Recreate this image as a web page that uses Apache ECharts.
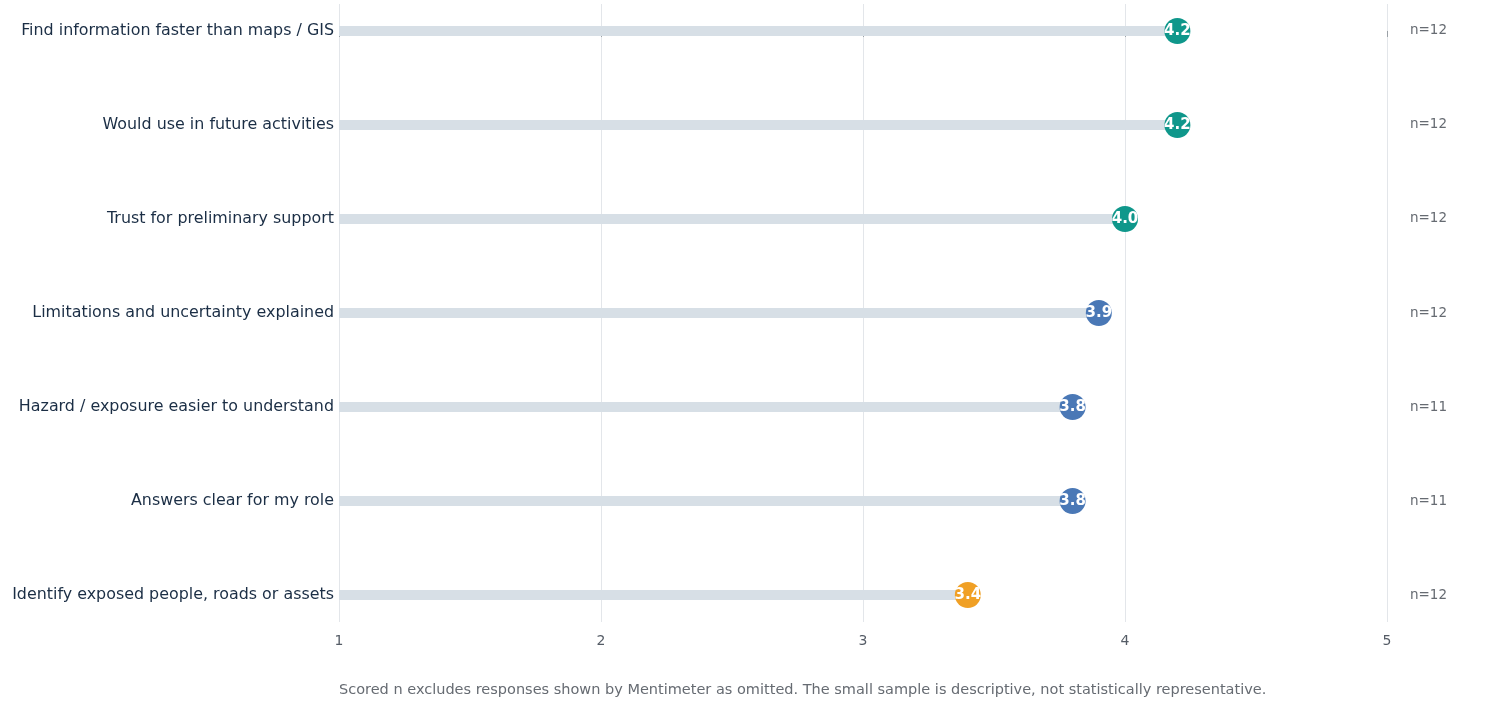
<!DOCTYPE html>
<html><head><meta charset="utf-8">
<script src="https://cdn.jsdelivr.net/npm/echarts@6/dist/echarts.min.js"></script>
<style>html,body{margin:0;padding:0;background:#fff}#c{width:1491px;height:711px}</style>
</head><body><div id="c"></div>
<script>
var categories = [
  'Find information faster than maps / GIS',
  'Would use in future activities',
  'Trust for preliminary support',
  'Limitations and uncertainty explained',
  'Hazard / exposure easier to understand',
  'Answers clear for my role',
  'Identify exposed people, roads or assets'
];
var scores = [4.2, 4.2, 4.0, 3.9, 3.8, 3.8, 3.4];
var nLabels = ['n=12', 'n=12', 'n=12', 'n=12', 'n=11', 'n=11', 'n=12'];
var xTicks = [1, 2, 3, 4, 5];
var footnote = 'Scored n excludes responses shown by Mentimeter as omitted. The small sample is descriptive, not statistically representative.';

function colorFor(v) {
  if (v >= 4) return '#0f978b';
  if (v >= 3.5) return '#4a78b6';
  return '#f0a025';
}
var idx = categories.map(function (_, i) { return i; });
var data = scores.map(function (v, i) { return [v, i]; });
var FONT = 'DejaVu Sans';

var chart = echarts.init(document.getElementById('c'), null, {renderer: 'canvas'});
chart.setOption({
  animation: false,
  textStyle: {fontFamily: FONT},
  grid: {left: 339, right: 104, top: 4, bottom: 89, containLabel: false},
  xAxis: {
    type: 'value', min: 1, max: 5, interval: 1,
    axisLine: {show: false},
    axisTick: {show: true, length: 6, lineStyle: {color: '#9aa0a6'}},
    axisLabel: {color: '#555c66', fontSize: 14, margin: 12, fontFamily: FONT},
    splitLine: {show: true, lineStyle: {color: '#e3e6ea', width: 1}}
  },
  yAxis: {
    type: 'value', inverse: true, min: -0.287, max: 6.287,
    axisLine: {show: false}, axisTick: {show: false}, splitLine: {show: false},
    axisLabel: {
      customValues: idx, margin: 5, color: '#1b2e45', fontSize: 15.9, fontFamily: FONT,
      formatter: function (v) { return categories[Math.round(v)]; }
    }
  },
  graphic: [{
    type: 'text', left: 339, top: 683,
    style: {text: footnote, fill: '#666b72', font: '14.5px "DejaVu Sans"'}
  }],
  series: [{
    type: 'custom',
    data: data,
    clip: false,
    renderItem: function (params, api) {
      var v = api.value(0), i = api.value(1);
      var start = api.coord([1, i]);
      var end = api.coord([v, i]);
      var right = api.coord([5, i]);
      var c = colorFor(v);
      return {
        type: 'group',
        children: [{
          type: 'rect',
          shape: {x: start[0], y: start[1] - 5, width: end[0] - start[0], height: 10},
          style: {fill: '#d7dfe6'}
        }, {
          type: 'circle',
          shape: {cx: end[0], cy: end[1], r: 13},
          style: {fill: c}
        }, {
          type: 'text',
          x: end[0], y: end[1],
          style: {
            text: v.toFixed(1), fill: '#ffffff', align: 'center', verticalAlign: 'middle',
            font: 'bold 15px "DejaVu Sans"'
          }
        }, {
          type: 'text',
          x: right[0] + 23, y: right[1],
          style: {
            text: nLabels[i], fill: '#666b72', align: 'left', verticalAlign: 'middle',
            font: '13.5px "DejaVu Sans"'
          }
        }]
      };
    }
  }]
});
</script></body></html>
